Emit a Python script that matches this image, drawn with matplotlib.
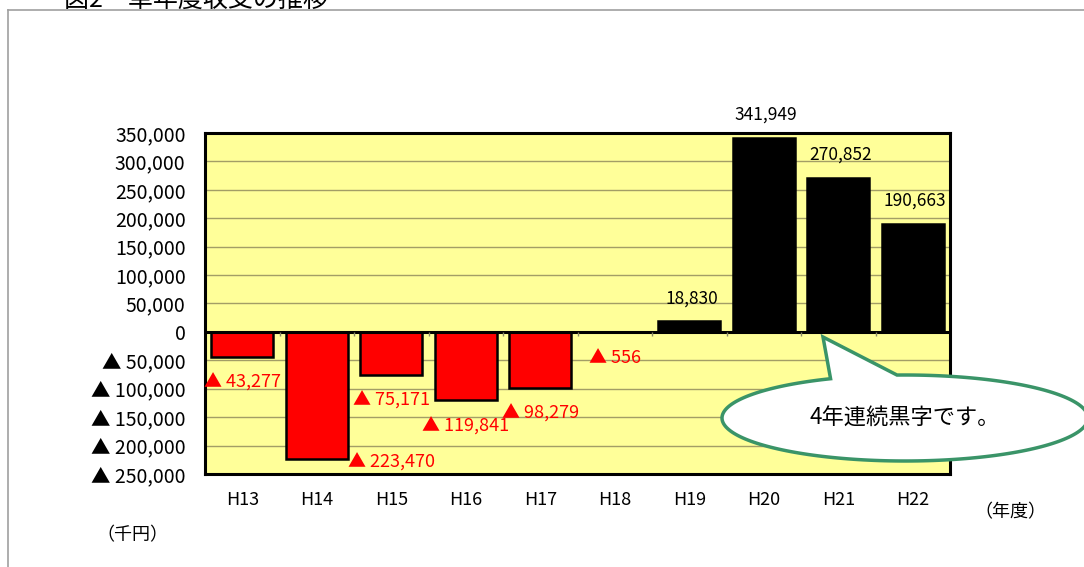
import numpy as np
import matplotlib
matplotlib.use("Agg")
import matplotlib.pyplot as plt
from matplotlib.patches import Polygon
from matplotlib.lines import Line2D
from matplotlib.ticker import FixedLocator

plt.rcParams['font.family'] = ['Noto Sans CJK JP', 'DejaVu Sans']

# 単年度収支 (千円)
years = ['H13', 'H14', 'H15', 'H16', 'H17', 'H18', 'H19', 'H20', 'H21', 'H22']
balance = [-43277, -223470, -75171, -119841, -98279, -556, 18830, 341949, 270852, 190663]
y_ticks = [-250000, -200000, -150000, -100000, -50000, 0,
           50000, 100000, 150000, 200000, 250000, 300000, 350000]

W, H = 1084, 567


def fmt(v):
    if v < 0:
        return "▲ {:,}".format(abs(v))
    return "{:,}".format(v)


def px(x, y):
    # pixel (from top-left) -> figure fraction
    return x / W, 1 - y / H


fig = plt.figure(figsize=(W / 100, H / 100), dpi=100)
ax = fig.add_axes([205 / W, 1 - 474 / H, 745 / W, 341 / H])
ax.set_facecolor('#ffff99')

x = np.arange(len(years))
colors = ['red' if v < 0 else 'black' for v in balance]
ax.bar(x, balance, width=0.83, color=colors, edgecolor='black', linewidth=1.8, zorder=3)

ax.set_xlim(-0.5, len(years) - 0.5)
ax.set_ylim(y_ticks[0], y_ticks[-1])
ax.yaxis.set_major_locator(FixedLocator(y_ticks))
ax.set_yticklabels([fmt(t) for t in y_ticks])
ax.grid(axis='y', color='#a39e66', linewidth=1.0, zorder=0)
ax.set_xticks(x)
ax.set_xticklabels(years)
ax.tick_params(axis='both', length=0, labelsize=14)
ax.tick_params(axis='y', pad=14)
ax.tick_params(axis='x', pad=12, labelsize=13)
for s in ax.spines.values():
    s.set_linewidth(2.2)
    s.set_color('black')

# zero line with small ticks at category boundaries
ax.axhline(0, color='black', linewidth=2.2, zorder=4)
ax.vlines(x[:-1] + 0.5, -7000, 0, color='#888866', linewidth=1, zorder=4)

# data labels
ymin = y_ticks[0]
for i, v in enumerate(balance):
    if v < 0:
        ly = v - 46000
        lx = i + 0.0
        if ly < ymin + 10000:
            lx = i + 1.0
            ly = ymin + 20000
        ax.text(lx, ly, fmt(v), color='red', fontsize=13, ha='center', va='center', zorder=5)
    else:
        ax.annotate(fmt(v), (i + 0.03, v), xytext=(0, 10), textcoords='offset points',
                    ha='center', va='bottom', fontsize=12.5, zorder=5)

# units
fig.text(*px(132, 535), '（千円）', fontsize=13, ha='center', va='center')
fig.text(*px(1010, 512), '（年度）', fontsize=13, ha='center', va='center')

# outer frame and clipped title
fig.add_artist(Line2D([8 / W, 1], [1 - 10 / H, 1 - 10 / H], color='#a0a0a0', linewidth=1.2))
fig.add_artist(Line2D([8 / W, 8 / W], [0, 1 - 10 / H], color='#a0a0a0', linewidth=1.2))
fig.text(*px(64, 7), '図2　単年度収支の推移', fontsize=18, ha='left', va='baseline')

# speech bubble
cx, cy, a, b = 905, 418, 183, 43
theta = np.radians(np.linspace(114, 452.5, 200))
pts = [px(cx + a * np.cos(t), cy - b * np.sin(t)) for t in theta]
pts.append(px(823, 337))
bubble = Polygon(pts, closed=True, facecolor='white', edgecolor='#3a9468',
                 linewidth=2.5, transform=fig.transFigure, zorder=10)
fig.add_artist(bubble)
fig.text(*px(cx, cy), '4年連続黒字です。', fontsize=16, ha='center', va='center', zorder=11)

fig.savefig('out.png', dpi=100)
